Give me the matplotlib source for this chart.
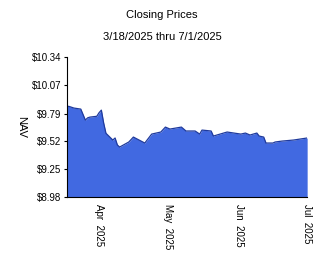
import matplotlib
matplotlib.use("Agg")
import matplotlib.pyplot as plt
import matplotlib.dates as mdates
import pandas as pd

plt.rcParams["font.family"] = ["Liberation Sans", "DejaVu Sans"]

# closing NAV
dates = ["2025-03-18", "2025-03-19", "2025-03-21", "2025-03-24", "2025-03-26",
         "2025-03-27", "2025-03-28", "2025-03-31", "2025-04-01", "2025-04-02",
         "2025-04-03", "2025-04-04", "2025-04-07", "2025-04-08", "2025-04-09",
         "2025-04-10", "2025-04-14", "2025-04-16", "2025-04-21", "2025-04-24",
         "2025-04-28", "2025-04-30", "2025-05-02", "2025-05-07", "2025-05-09",
         "2025-05-13", "2025-05-15", "2025-05-16", "2025-05-20", "2025-05-21",
         "2025-05-27", "2025-06-02", "2025-06-04", "2025-06-06", "2025-06-09",
         "2025-06-10", "2025-06-12", "2025-06-13", "2025-06-16", "2025-06-17",
         "2025-06-20", "2025-06-25", "2025-07-01"]
nav = [9.864, 9.860, 9.845, 9.835, 9.728,
       9.750, 9.757, 9.765, 9.800, 9.825,
       9.700, 9.600, 9.534, 9.554, 9.486,
       9.466, 9.515, 9.563, 9.505, 9.592,
       9.612, 9.660, 9.641, 9.660, 9.622,
       9.622, 9.592, 9.631, 9.622, 9.573,
       9.612, 9.592, 9.602, 9.583, 9.602,
       9.573, 9.563, 9.505, 9.505, 9.515,
       9.524, 9.534, 9.554]
yticks = [8.98, 9.25, 9.52, 9.79, 10.07, 10.34]

x = pd.to_datetime(dates)

fig = plt.figure(figsize=(3.24, 2.67), dpi=100)
ax = fig.add_axes([0.207, 0.262, 0.741, 0.524])

ax.fill_between(x, nav, yticks[0], color="#4169e1", lw=0)
ax.plot(x, nav, color="#1f3a9c", lw=0.9)

ax.set_xlim(x[0], x[-1])
ax.set_ylim(yticks[0], yticks[-1])
ax.set_yticks(yticks)
ax.set_yticklabels(["$%.2f" % v for v in yticks], fontsize=7)

ax.xaxis.set_major_locator(mdates.MonthLocator())
ax.xaxis.set_major_formatter(mdates.DateFormatter("%b  %Y"))
plt.setp(ax.get_xticklabels(), rotation=-90, fontsize=7, ha="center", va="top")
ax.tick_params(axis="x", length=0, pad=5)
ax.tick_params(axis="y", length=2, pad=2)

for s in ["top", "right"]:
    ax.spines[s].set_visible(False)

ax.set_ylabel("NAV", rotation=-90, fontsize=8, labelpad=8, va="center")

fig.text(0.5, 0.944, "Closing Prices", ha="center", va="center", fontsize=8)
fig.text(0.5, 0.861, "3/18/2025 thru 7/1/2025", ha="center", va="center", fontsize=8)

fig.savefig("out.png", dpi=100)
